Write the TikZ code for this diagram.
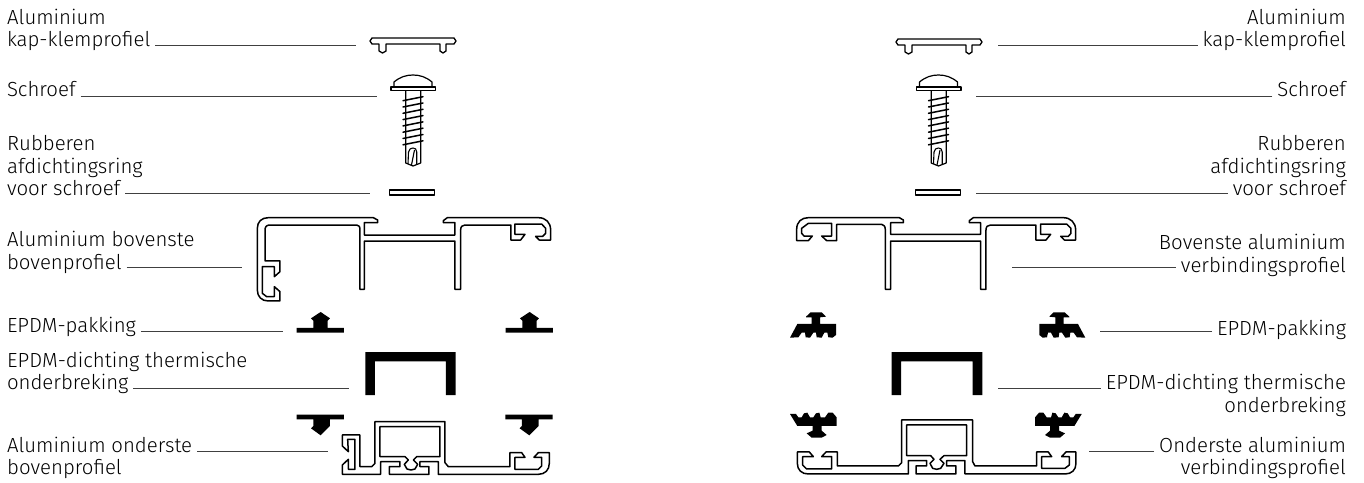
\documentclass[tikz,border=0pt]{standalone}
\usepackage{fontspec}
\setmainfont{Fira Sans Light}
\usetikzlibrary{positioning}
\tikzset{
zoomed/.style={x=0.3333pt,y=-0.3333pt},
profile/.style={draw=black,line width=1.5pt,fill=white,line join=round},
rubber/.style={fill=black,draw=none},
leftlabel/.style={anchor=base west,inner sep=0pt,align=left},
rightlabel/.style={anchor=base east,inner sep=0pt,align=right},
lastleft/.style={anchor=base west,inner sep=0pt,outer sep=5pt},
lastright/.style={anchor=base east,inner sep=0pt,outer sep=5pt},
leader/.style={draw=black!75,line width=0.9pt},
capclip/.pic={
\path[profile,line width=1.3pt] (370,41) -- (372,38) -- (454,38) -- (456,41) -- (454,44) -- (446,44) -- (446,51)
  -- (443,53) -- (440,51) -- (440,44) -- (386,44) -- (386,51) -- (382.5,53) -- (379,51) -- (379,44) -- (372,44) -- cycle;
},
screwpin/.pic={
\path[profile,line width=1.2pt] (394,87) -- (394,82) .. controls (400,77) and (406,75) .. (413,75)
  .. controls (420,75) and (426,77) .. (432,82) -- (432,87);
\path[profile,line width=1.3pt] (391,87) rectangle (435.5,90.5);
\path[profile,line width=1.2pt] (405.7,91) -- (405.7,163) -- (413,166) -- (420.7,163) -- (420.7,91);
\foreach \i in {0,...,7}
  \draw[line width=1.5pt,line cap=round] (403,{100.7+6.3*\i}) -- (423,{96.7+6.3*\i});
\draw[line width=1.1pt] (408,164) -- (408.5,152) .. controls (409,149) and (411,148) .. (413,148)
  .. controls (415,148) and (416.7,149) .. (416.7,152) -- (416.7,164);
\draw[line width=1.1pt] (411.5,165) -- (414.5,150);
},
washer/.pic={
\path[profile,line width=1.3pt] (389.7,190) rectangle (434.7,195);
},
sealflat/.pic={
\path[rubber] (200,384) -- (250,384) -- (250,362) -- (243,355) -- (272,336) -- (300,355) -- (293,362)
  -- (293,384) -- (342,384) -- (342,398) -- (200,398) -- cycle;
},
sealdrop/.pic={
\path[rubber] (50,224) -- (192,224) -- (192,238) -- (150,238) -- (150,258) -- (122,286) -- (93,265)
  -- (100,258) -- (100,238) -- (50,238) -- cycle;
},
sealcomb/.pic={
\path[rubber] (48,350) -- (62,337) -- (95,337) -- (108,350) -- (90,352) -- (90,372) -- (138,372) -- (138,405)
  -- (128,413) -- (115,412) -- (112,398) -- (103,398) -- (95,413) -- (80,412) -- (78,398) -- (70,398)
  -- (60,413) -- (47,412) -- (45,398) -- (35,398) -- (25,412) -- (0,413) -- (22,372) -- (65,372)
  -- (65,352) -- (48,352) -- cycle;
},
sealfork/.pic={
\path[rubber] (0,222) -- (18,222) -- (25,232) -- (35,232) -- (42,220) -- (52,218) -- (60,232) -- (70,232)
  -- (78,220) -- (88,218) -- (92,232) -- (105,232) -- (115,218) -- (128,218) -- (140,232) -- (140,258)
  -- (95,258) -- (95,272) -- (110,285) -- (95,293) -- (65,293) -- (50,280) -- (68,272) -- (68,258)
  -- (22,258) -- cycle;
},
}
\begin{document}
\begin{tikzpicture}[x=1pt,y=-1pt,font=\fontsize{20.4}{22.8}\selectfont]
\useasboundingbox (0,0) rectangle (1364,482);
% labels, left column
\node[leftlabel] (capA) at (7,24) {Aluminium};
\node[lastleft] (capB) at (2,46.7) {kap-klemprofiel};
\node[lastleft] (screwB) at (2,96.7) {Schroef};
\node[leftlabel] (ringA) at (7,173) {Rubberen\\afdichtingsring};
\node[lastleft] (ringB) at (2,195.7) {voor schroef};
\node[leftlabel] (topA) at (7,246.7) {Aluminium bovenste};
\node[lastleft] (topB) at (2,269.2) {bovenprofiel};
\node[lastleft] (gasketB) at (2,332) {EPDM-pakking};
\node[leftlabel] (breakA) at (7,367) {EPDM-dichting thermische};
\node[lastleft] (breakB) at (2,389.4) {onderbreking};
\node[lastleft] (lowA) at (2,452) {Aluminium onderste};
\node[leftlabel] (lowB) at (7,474.5) {bovenprofiel};
% labels, right column
\node[rightlabel] (rcapA) at (1346,24) {Aluminium};
\node[lastright] (rcapB) at (1351,46.7) {kap-klemprofiel};
\node[lastright] (rscrewB) at (1351,96.7) {Schroef};
\node[rightlabel] (rringA) at (1346,173) {Rubberen\\afdichtingsring};
\node[lastright] (rringB) at (1351,195.7) {voor schroef};
\node[rightlabel] (rtopA) at (1346,249) {Bovenste aluminium};
\node[lastright] (rtopB) at (1351,272) {verbindingsprofiel};
\node[lastright] (rgasketB) at (1351,335) {EPDM-pakking};
\node[lastright] (rbreakA) at (1351,389.4) {EPDM-dichting thermische};
\node[rightlabel] (rbreakB) at (1346,412) {onderbreking};
\node[lastright] (rlowA) at (1351,452) {Onderste aluminium};
\node[rightlabel] (rlowB) at (1346,474.5) {verbindingsprofiel};
% parts, upper rows
\pic at (0,0) {capclip};
\pic at (526,1) {capclip};
\pic at (0,0) {screwpin};
\pic at (525.5,0) {screwpin};
\pic at (0,0) {washer};
\pic at (526,0) {washer};
% upper profile, left
\begin{scope}[shift={(230,200)},zoomed]
\path[profile] (82,85) .. controls (82,65) and (95,53) .. (115,53) -- (430,53) -- (443,60) -- (443,68) -- (403,68)
  -- (403,105) -- (675,105) -- (675,68) -- (640,68) -- (640,62) -- (652,53) -- (925,53)
  .. controls (948,53) and (962,68) .. (962,90) -- (962,120) -- (928,120) -- (917,109) -- (938,109) -- (947,100)
  -- (947,85) -- (935,72) -- (855,72) -- (855,103) -- (885,103) -- (872,120) -- (843,120) -- (843,75) -- (705,75)
  .. controls (697,75) and (692,80) .. (692,90) -- (692,268) -- (675,268) -- (675,123) -- (403,123) -- (403,268)
  -- (390,268) -- (390,90) .. controls (390,80) and (387,75) .. (380,75) -- (120,75)
  .. controls (110,75) and (105,80) .. (105,90) -- (105,183) -- (150,183) -- (150,215) -- (133,230) -- (133,200)
  -- (97,200) -- (97,280) -- (110,290) -- (133,290) -- (133,260) -- (150,275) -- (150,303) -- (115,303)
  .. controls (95,303) and (82,290) .. (82,270) -- cycle;
\end{scope}
% upper profile, right
\begin{scope}[shift={(790,200)},zoomed]
\path[profile] (538,68) -- (538,62) -- (550,53) -- (820,53) .. controls (842,53) and (857,68) .. (857,90) -- (857,120)
  -- (823,120) -- (812,109) -- (835,109) -- (843,100) -- (843,85) -- (830,72) -- (752,72) -- (752,103) -- (782,103)
  -- (768,120) -- (738,120) -- (738,75) -- (602,75) .. controls (593,75) and (588,80) .. (588,90) -- (588,268)
  -- (572,268) -- (572,123) -- (302,123) -- (302,268) -- (286,268) -- (286,90) .. controls (286,80) and (282,73) .. (275,73)
  -- (140,73) -- (140,122) -- (110,122) -- (95,108) -- (125,108) -- (125,70) -- (55,70) -- (35,85) -- (35,100)
  -- (42,108) -- (67,108) -- (55,122) -- (20,122) -- (20,88) .. controls (20,65) and (35,53) .. (55,53) -- (328,53)
  -- (340,60) -- (340,68) -- (302,68) -- (302,103) -- (572,103) -- (572,68) -- cycle;
\end{scope}
% seals above the thermal break
\begin{scope}[shift={(230,200)},zoomed]
\pic at (0,0) {sealflat};
\pic at (627,0) {sealflat};
\end{scope}
\begin{scope}[shift={(790,200)},zoomed]
\pic at (0,0) {sealcomb};
\end{scope}
\begin{scope}[shift={(1085.3,200)},xscale=-1,zoomed]
\pic[transform shape] at (0,0) {sealcomb};
\end{scope}
% thermal break
\begin{scope}[shift={(280,340)},zoomed]
\path[rubber] (256,36) -- (527,36) -- (527,165) -- (498,165) -- (498,64) -- (285,64) -- (285,165) -- (256,165) -- cycle;
\pic at (0,0) {sealdrop};
\pic at (626,0) {sealdrop};
% lower profile, left
\path[profile] (187,285) -- (240,285) -- (240,380) -- (275,380) -- (285,370) -- (285,245) -- (495,245) -- (495,368)
  -- (505,380) -- (690,380) -- (690,338) -- (725,338) -- (735,352) -- (705,352) -- (705,388) -- (775,388) -- (785,378)
  -- (785,352) -- (762,352) -- (775,338) -- (808,338) -- (808,370) .. controls (808,390) and (795,403) .. (775,403)
  -- (475,403) -- (475,365) -- (420,365) -- (420,380) -- (447,380) -- (447,403) -- (328,403) -- (328,380) -- (360,380)
  -- (360,365) -- (302,365) -- (302,403) -- (187,403) -- (187,375) -- (205,358) -- (205,388) -- (225,388) -- (225,298)
  -- (203,298) -- (205,335) -- (187,318) -- cycle;
\path[profile] (300,260) -- (480,260) -- (480,350) -- (410,350) -- (400,360) -- (413,373) -- (405,387) -- (393,390)
  -- (381,387) -- (373,373) -- (385,360) -- (375,350) -- (300,350) -- cycle;
\end{scope}
\begin{scope}[shift={(790,340)},zoomed]
\path[rubber] (305,36) -- (577,36) -- (577,165) -- (548,165) -- (548,64) -- (333,64) -- (333,165) -- (305,165) -- cycle;
\pic at (0,0) {sealfork};
% lower profile, right
\path[profile] (335,240) -- (548,240) -- (548,365) -- (555,378) -- (740,378) -- (740,336) -- (775,336) -- (785,350)
  -- (755,350) -- (755,385) -- (825,385) -- (838,375) -- (838,350) -- (815,350) -- (828,336) -- (858,336) -- (858,370)
  .. controls (858,390) and (845,402) .. (825,402) -- (525,402) -- (525,362) -- (470,362) -- (470,378) -- (498,378)
  -- (498,402) -- (378,402) -- (378,378) -- (410,378) -- (410,362) -- (355,362) -- (355,402) -- (55,402)
  .. controls (35,402) and (22,390) .. (22,370) -- (22,336) -- (58,336) -- (70,350) -- (38,350) -- (38,375) -- (50,387)
  -- (125,387) -- (125,350) -- (95,350) -- (108,336) -- (142,336) -- (142,378) -- (325,378) -- (335,368) -- cycle;
\path[profile] (350,255) -- (530,255) -- (530,347) -- (462,347) -- (450,358) -- (462,370) -- (452,385) -- (440,388)
  -- (428,385) -- (420,370) -- (432,358) -- (422,347) -- (350,347) -- cycle;
\end{scope}
\begin{scope}[shift={(1081.7,340)},xscale=-1,zoomed]
\pic[transform shape] at (0,0) {sealfork};
\end{scope}
% leader ends
\coordinate (capEnd) at (356,45.7);
\coordinate (screwEnd) at (377,96);
\coordinate (ringEnd) at (370,193.7);
\coordinate (topEnd) at (242,267.3);
\coordinate (gasketEnd) at (283,331.3);
\coordinate (breakEnd) at (349,388.3);
\coordinate (lowEnd) at (328,451.7);
\coordinate (rcapEnd) at (998,45.7);
\coordinate (rscrewEnd) at (976,96);
\coordinate (rringEnd) at (976,193.7);
\coordinate (rtopEnd) at (1012,267.3);
\coordinate (rgasketEnd) at (1100,331.3);
\coordinate (rbreakEnd) at (998,388.3);
\coordinate (rlowEnd) at (1089,451.7);
\path[leader]
(capB.east |- capEnd) edge (capEnd)
(screwB.east |- screwEnd) edge (screwEnd)
(ringB.east |- ringEnd) edge (ringEnd)
(topB.east |- topEnd) edge (topEnd)
(gasketB.east |- gasketEnd) edge (gasketEnd)
(breakB.east |- breakEnd) edge (breakEnd)
(lowA.east |- lowEnd) edge (lowEnd)
(rcapB.west |- rcapEnd) edge (rcapEnd)
(rscrewB.west |- rscrewEnd) edge (rscrewEnd)
(rringB.west |- rringEnd) edge (rringEnd)
(rtopB.west |- rtopEnd) edge (rtopEnd)
(rgasketB.west |- rgasketEnd) edge (rgasketEnd)
(rbreakA.west |- rbreakEnd) edge (rbreakEnd)
(rlowA.west |- rlowEnd) edge (rlowEnd);
\end{tikzpicture}
\end{document}
